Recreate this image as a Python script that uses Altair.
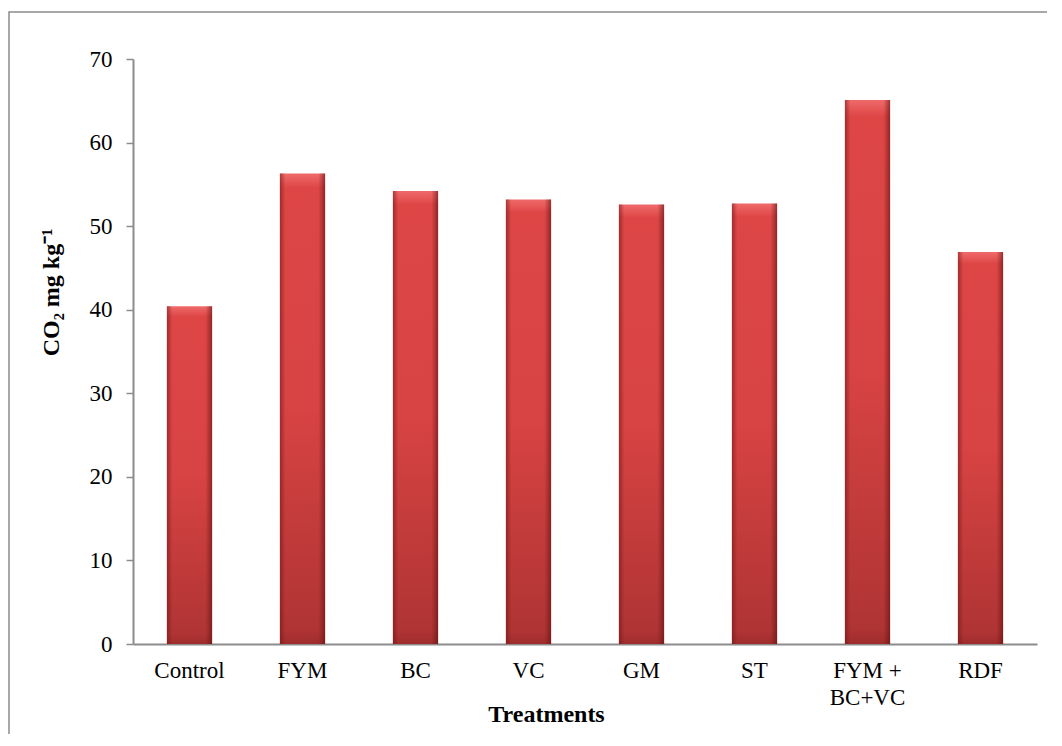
import altair as alt
import pandas as pd

treatments = ["Control", "FYM", "BC", "VC", "GM", "ST", "FYM +\nBC+VC", "RDF"]
co2_values = [40.4, 56.3, 54.2, 53.2, 52.6, 52.7, 65.1, 46.9]
y_ticks = [0, 10, 20, 30, 40, 50, 60, 70]

df = pd.DataFrame({"Treatment": treatments, "CO2": co2_values})
frame_df = pd.DataFrame({"k": [0]})

FONT = "Liberation Serif"

x_enc = alt.X(
    "Treatment:N",
    sort=treatments,
    scale=alt.Scale(paddingInner=0.6, paddingOuter=0.3),
    axis=alt.Axis(
        title="Treatments",
        titleFont=FONT,
        titleFontSize=24,
        titleFontWeight="bold",
        titleColor="black",
        titleX=413,
        titleY=77,
        titleBaseline="alphabetic",
        labelFont=FONT,
        labelFontSize=23,
        labelColor="black",
        labelAngle=0,
        labelPadding=15,
        labelLineHeight=27,
        labelBaseline="top",
        labelExpr="split(datum.label, '\\n')",
        ticks=False,
        domainColor="#8c8c8c",
        domainWidth=2,
        grid=False,
    ),
)

y_enc = alt.Y(
    "CO2:Q",
    scale=alt.Scale(domain=[0, 70], nice=False),
    axis=alt.Axis(
        title="CO₂ mg kg⁻¹",
        titleFont=FONT,
        titleFontSize=24,
        titleFontWeight="bold",
        titleColor="black",
        titleX=-82,
        titleY=233,
        titleBaseline="middle",
        titleAngle=-90,
        labelFont=FONT,
        labelFontSize=23,
        labelColor="black",
        labelPadding=14,
        values=y_ticks,
        tickSize=7,
        tickColor="#8c8c8c",
        tickWidth=1.5,
        domainColor="#8c8c8c",
        domainWidth=2,
        grid=False,
    ),
)

base_fill = alt.Gradient(
    gradient="linear",
    x1=0, x2=0, y1=0, y2=1,
    stops=[
        alt.GradientStop(color="#F06A6A", offset=0),
        alt.GradientStop(color="#DE4646", offset=0.03),
        alt.GradientStop(color="#D84343", offset=0.5),
        alt.GradientStop(color="#B03434", offset=0.97),
        alt.GradientStop(color="#A02C2C", offset=1),
    ],
)

edge_fill = alt.Gradient(
    gradient="linear",
    x1=0, x2=1, y1=0, y2=0,
    stops=[
        alt.GradientStop(color="rgba(110,20,20,0.55)", offset=0),
        alt.GradientStop(color="rgba(110,20,20,0.0)", offset=0.12),
        alt.GradientStop(color="rgba(110,20,20,0.0)", offset=0.85),
        alt.GradientStop(color="rgba(90,15,15,0.6)", offset=1),
    ],
)

bars = alt.Chart(df).mark_bar(color=base_fill).encode(x=x_enc, y=y_enc)
edges = alt.Chart(df).mark_bar(color=edge_fill).encode(x=alt.X("Treatment:N", sort=treatments), y="CO2:Q")

frame = alt.Chart(frame_df).mark_rect(fill=None, stroke="#8c8c8c", strokeWidth=1.5).encode(
    x=alt.value(-124), x2=alt.value(1100), y=alt.value(-47), y2=alt.value(800)
)

chart = (
    alt.layer(frame, bars, edges)
    .properties(
        width=904,
        height=585,
        autosize=alt.AutoSizeParams(type="none"),
        padding={"left": 125, "top": 51, "right": 10, "bottom": 90},
        background="white",
    )
    .configure_view(stroke=None)
)

chart.save("out.html", embed_options={"renderer": "svg", "actions": False})
